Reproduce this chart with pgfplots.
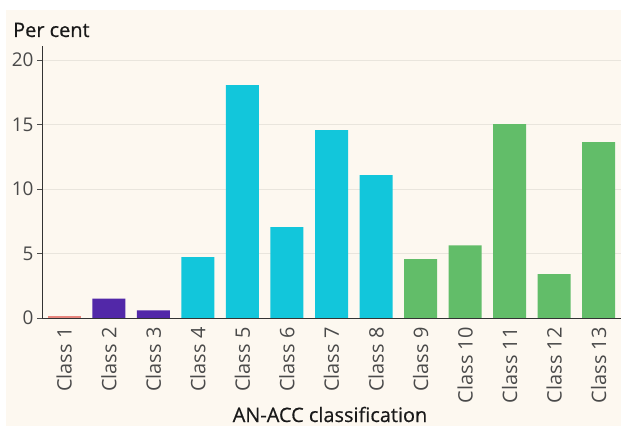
\documentclass[border=0pt]{standalone}
\usepackage{pgfplots}
\pgfplotsset{compat=1.18}
\usepackage{fontspec}
\setmainfont{Open Sans}
\newfontfamily\medfont{Open Sans}[FakeBold=0.5]
\definecolor{bgc}{HTML}{FDF8F0}
\definecolor{c1}{HTML}{E8867E}
\definecolor{c2}{HTML}{5228A8}
\definecolor{c3}{HTML}{12C6DB}
\definecolor{c4}{HTML}{62BD69}
\definecolor{tickc}{HTML}{4A4A4A}
\definecolor{gridc}{HTML}{E9E5DD}
\begin{document}
\begin{tikzpicture}
\path[use as bounding box,fill=white] (0,0) rectangle (621bp,426bp);
\fill[bgc] (6bp,0) rectangle (621bp,416bp);
\begin{axis}[
  at={(42bp,108bp)}, anchor=south west,
  scale only axis, width=579bp, height=272bp,
  xmin=-0.5, xmax=12.5, ymin=0, ymax=21.1,
  axis x line*=bottom, axis y line*=left,
  axis line style={draw=black!80, line width=0.9pt},
  xtick={0,...,12},
  xticklabels={Class 1,Class 2,Class 3,Class 4,Class 5,Class 6,Class 7,Class 8,Class 9,Class 10,Class 11,Class 12,Class 13},
  x tick label style={rotate=90, anchor=east, font=\fontsize{20}{20}\selectfont, text=tickc, xshift=-1bp},
  xtick style={draw=none},
  ytick={0,5,10,15,20},
  y tick label style={font=\fontsize{19}{19}\selectfont, text=tickc},
  /pgf/number format/assume math mode=true,
  ytick style={draw=black!70, line width=0.6pt},
  tick align=outside, major tick length=5bp,
  ymajorgrids, grid style={draw=gridc, line width=0.6pt},
  ybar, bar width=33bp, bar shift=0pt,
  clip=false,
]
\addplot[fill=c1, draw=none] coordinates {(0,0.15)};
\addplot[fill=c2, draw=none] coordinates {(1,1.5) (2,0.6)};
\addplot[fill=c3, draw=none] coordinates {(3,4.72) (4,18.06) (5,7.05) (6,14.57) (7,11.08)};
\addplot[fill=c4, draw=none] coordinates {(8,4.57) (9,5.64) (10,15.04) (11,3.4) (12,13.64)};
\end{axis}
\node[anchor=base west, font=\medfont\fontsize{20}{20}\selectfont, inner sep=0pt, text=black!90] at (13bp,389bp) {Per cent};
\node[anchor=base, font=\medfont\fontsize{20}{20}\selectfont, inner sep=0pt, text=black!90] at (330bp,4bp) {AN-ACC classification};
\end{tikzpicture}
\end{document}
